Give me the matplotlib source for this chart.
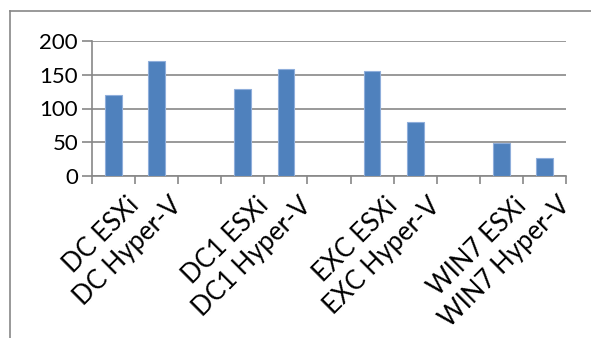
import matplotlib.pyplot as plt
from matplotlib.lines import Line2D

# categories (empty strings are the gaps between groups)
categories = ["DC ESXi", "DC Hyper-V", "", "DC1 ESXi", "DC1 Hyper-V", "",
              "EXC ESXi", "EXC Hyper-V", "", "WIN7 ESXi", "WIN7 Hyper-V"]
values = [120, 171, 0, 129, 159, 0, 156, 80, 0, 49, 26]
yticks = [0, 50, 100, 150, 200]

plt.rcParams['font.family'] = ['Lato', 'DejaVu Sans']

W, H = 591, 338
fig = plt.figure(figsize=(W / 100, H / 100), dpi=100)
ax = fig.add_axes([92 / W, 1 - 176 / H, (566 - 92) / W, (176 - 41) / H])

grey = '#878787'
x = list(range(len(categories)))
ax.bar(x, values, width=0.39, color='#4F81BD', edgecolor='#8FAEDB',
       linewidth=0.8, zorder=3)

ax.set_xlim(-0.5, len(categories) - 0.5)
ax.set_ylim(0, 200)
ax.set_yticks(yticks)
ax.set_yticklabels([str(v) for v in yticks], fontsize=16)
ax.yaxis.grid(True, color=grey, linewidth=1.2, zorder=0)
ax.tick_params(axis='y', length=7, width=1.2, color=grey, pad=3)

# ticks between categories, labels at category centres
ax.set_xticks([i - 0.5 for i in range(len(categories) + 1)])
ax.set_xticklabels([])
ax.tick_params(axis='x', length=6, width=1.2, color=grey)
for i, lab in enumerate(categories):
    if lab:
        ax.annotate(lab, xy=(i, 0), xycoords=('data', 'axes fraction'),
                    xytext=(9, -12), textcoords='offset points',
                    rotation=45, ha='right', va='top',
                    rotation_mode='anchor', fontsize=18.5)

for side in ['top', 'right']:
    ax.spines[side].set_visible(False)
for side in ['left', 'bottom']:
    ax.spines[side].set_color(grey)
    ax.spines[side].set_linewidth(1.2)

# outer chart frame (only left and top edges visible)
fig.add_artist(Line2D([10 / W, 10 / W], [0, 1 - 11 / H], color=grey,
                      linewidth=1.2, transform=fig.transFigure))
fig.add_artist(Line2D([10 / W, 1], [1 - 11 / H, 1 - 11 / H], color=grey,
                      linewidth=1.2, transform=fig.transFigure))

fig.savefig('out.png', dpi=100)
